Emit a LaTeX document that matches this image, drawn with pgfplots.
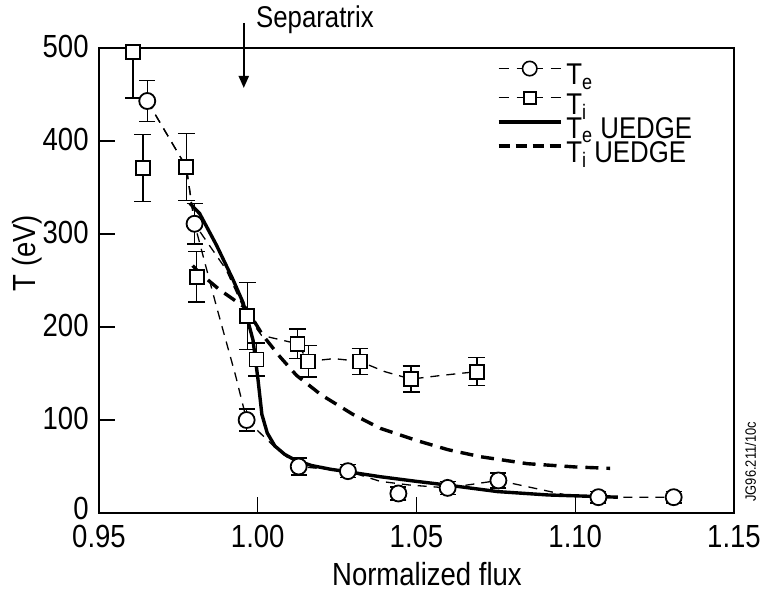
\documentclass[border=0pt]{standalone}
\usepackage{fontspec}
\setmainfont[FakeStretch=0.86]{Liberation Sans}
\usepackage{pgfplots}
\pgfplotsset{compat=1.18}
\usetikzlibrary{arrows.meta}

\pgfplotstableread{
x y ep em
0.9652 443 22 22
0.9801 311 22 22
0.9965 100 12 12
1.0129 50 9 9
1.0284 45 7 7
1.0443 21 7 7
1.0598 27 7 7
1.0758 35 8 8
1.1073 17 6 6
1.1310 17 6 6
}\tedata
\pgfplotstableread{
x y ep em
0.9607 496 4 50
0.9638 371 36 36
0.9775 372 36 36
0.9808 254 27 27
0.9967 212 36 36
0.9996 165 18 18
1.0125 182 16 16
1.0159 163 17 17
1.0322 163 14 14
1.0483 144 14 14
1.0690 152 15 15
}\tidata

\begin{document}
\begin{tikzpicture}
\path[use as bounding box] (-49.5bp,-38bp) rectangle (331bp,256.5bp);
\begin{axis}[
  at={(0,0)}, anchor=south west,
  scale only axis, width=317.5bp, height=232.5bp,
  xmin=0.95, xmax=1.15, ymin=0, ymax=500,
  clip=false,
  axis line style={black, line width=0.65bp},
  xtick={0.95,1.00,1.05,1.10,1.15},
  xticklabels={0.95,1.00,1.05,1.10,1.15},
  ytick={0,100,200,300,400,500},
  yticklabels={\raisebox{2.5bp}{0},100,200,300,400,500},
  tick pos=left, tick align=inside,
  major tick length=8bp,
  tick style={black, line width=0.65bp},
  /pgf/number format/assume math mode=true,
  ticklabel style={font=\fontsize{16bp}{18bp}\selectfont},
  xticklabel style={inner sep=0pt, anchor=north, yshift=-6bp},
  yticklabel style={inner sep=0pt, anchor=east, xshift=-5bp, yshift=1bp},
  xlabel={Normalized flux},
  ylabel={T (eV)},
  every axis x label/.style={at={(axis description cs:0.5165,-0.131)}, anchor=center, font=\fontsize{16bp}{18bp}\selectfont},
  every axis y label/.style={at={(axis description cs:-0.1134,0.559)}, anchor=center, rotate=90, font=\fontsize{16bp}{18bp}\selectfont},
  legend style={draw=none, fill=none, inner sep=0pt, outer sep=0pt,
    at={(axis description cs:0.6268,0.973)}, anchor=north west,
    font=\fontsize{15bp}{17bp}\selectfont, row sep=0pt,
    nodes={inner sep=0pt, text height=8.8bp, text depth=3bp},
    /tikz/every odd column/.append style={column sep=2bp}},
  legend cell align=left,
]
\addlegendimage{legend image code/.code={
  \draw[black, line width=0.6bp] (0bp,5.3bp) -- (5bp,5.3bp) (9bp,5.3bp) -- (12bp,5.3bp) (19bp,5.3bp) -- (22bp,5.3bp) (26bp,5.3bp) -- (31bp,5.3bp);
  \draw[black, line width=0.8bp, fill=white] (15.5bp,5.3bp) circle (3.6bp);}}
\addlegendentry{T\textsubscript{e}}
\addlegendimage{legend image code/.code={
  \draw[black, line width=0.6bp] (0bp,5.3bp) -- (5bp,5.3bp) (9bp,5.3bp) -- (12bp,5.3bp) (19bp,5.3bp) -- (22bp,5.3bp) (26bp,5.3bp) -- (31bp,5.3bp);
  \draw[black, line width=0.8bp, fill=white] (12.5bp,2.3bp) rectangle (18.5bp,8.3bp);}}
\addlegendentry{T\textsubscript{i}}
\addlegendimage{legend image code/.code={
  \draw[black, line width=1.7bp] (0bp,5.3bp) -- (31bp,5.3bp);}}
\addlegendentry{T\textsubscript{e} UEDGE}
\addlegendimage{legend image code/.code={
  \draw[black, line width=1.7bp, dash pattern=on 5.5bp off 3bp] (0bp,5.3bp) -- (31bp,5.3bp);}}
\addlegendentry{T\textsubscript{i} UEDGE}

% thin dashed connecting line, Te
\addplot[forget plot, black, line width=0.65bp, dash pattern=on 4.5bp off 3.5bp] coordinates {
(0.9652,443) (0.9775,372) (0.9801,311) (0.9870,222) (0.9930,148) (0.9965,100)
(1.0050,72) (1.0129,50) (1.0284,45) (1.0386,34) (1.0480,30) (1.0598,27)
(1.0758,35) (1.0970,19.4) (1.1073,17) (1.1310,17)};
% thin dashed connecting line, Ti
\addplot[forget plot, black, line width=0.65bp, dash pattern=on 4.5bp off 3.5bp] coordinates {
(0.9652,443) (0.9775,372) (0.9801,311) (0.9827,298) (0.9900,262) (0.9967,212)
(1.0012,191) (1.0125,182) (1.0159,163) (1.0240,166) (1.0322,163) (1.0400,152)
(1.0483,144) (1.0580,148) (1.0690,152)};
% Te UEDGE
\addplot[forget plot, black, line width=1.7bp] coordinates {
(0.9786,333) (0.9817,322) (0.9870,288) (0.9922,251) (0.9954,226) (0.9985,186)
(1.0001,143) (1.0013,106) (1.0030,86) (1.0054,72) (1.0085,63) (1.0117,57)
(1.0170,51) (1.0230,47) (1.0290,44) (1.0386,39) (1.0500,34) (1.0598,30)
(1.0756,23) (1.0914,19.4) (1.1134,17)};
% Ti UEDGE
\addplot[forget plot, black, line width=1.7bp, dash pattern=on 6.5bp off 4bp] coordinates {
(0.9795,266) (0.9817,258) (0.9880,240) (0.9964,220) (1.0016,191) (1.0070,168)
(1.0122,148) (1.0200,127) (1.0300,106) (1.0386,91) (1.0500,78) (1.0600,68)
(1.0702,60.5) (1.0850,53) (1.1000,49.5) (1.1110,48)};

% data with error bars
\addplot[forget plot, only marks, mark=*, mark size=4bp,
  mark options={draw=black, fill=white, line width=0.9bp},
  error bars/.cd, y dir=both, y explicit, error mark=|,
  error bar style={line width=0.7bp, black},
  error mark options={black, mark size=4bp, line width=0.8bp}]
  table[x=x, y=y, y error plus=ep, y error minus=em] {\tedata};
\addplot[forget plot, only marks, mark=square*, mark size=3.5bp,
  mark options={draw=black, fill=white, line width=0.9bp},
  error bars/.cd, y dir=both, y explicit, error mark=|,
  error bar style={line width=0.7bp, black},
  error mark options={black, mark size=4.2bp, line width=0.8bp}]
  table[x=x, y=y, y error plus=ep, y error minus=em] {\tidata};

\coordinate (septip) at (axis cs:0.9956,457);
\coordinate (septop) at (axis cs:0.9956,527);
\node[font=\fontsize{15bp}{17bp}\selectfont] at (axis cs:1.018,530) {Separatrix};
\node[rotate=90, font=\fontsize{7.5bp}{9bp}\selectfont] at (axis cs:1.1552,55) {JG96.211/10c};
\end{axis}
\draw[black, line width=1bp, -{Triangle[length=6bp,width=5bp]}] (septop) -- (septip);
\end{tikzpicture}
\end{document}
